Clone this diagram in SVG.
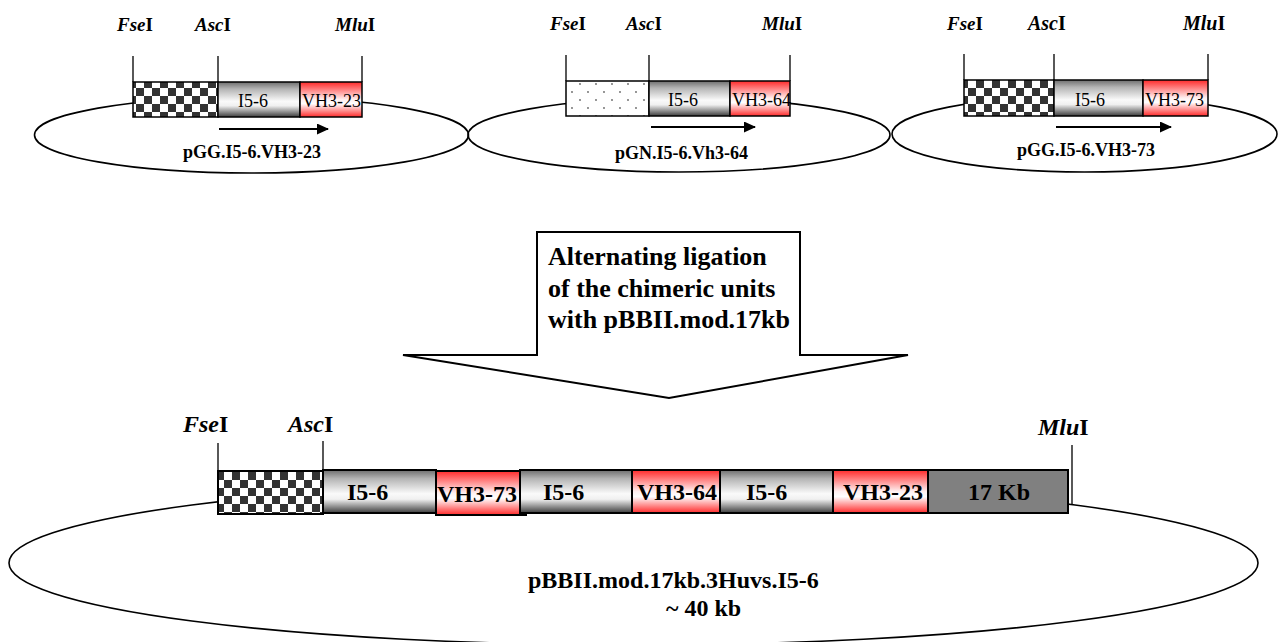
<svg xmlns="http://www.w3.org/2000/svg" width="1279" height="642" viewBox="0 0 1279 642">
<style>
.ring{fill:none;stroke:#000;stroke-width:1.6}
.box{stroke:#000;stroke-width:1.5}
.bbox{stroke:#000;stroke-width:2}
.site{stroke:#000;stroke-width:1.3;fill:none}
.lab{font-family:"Liberation Serif",serif;fill:#000}
.re{font-family:"Liberation Serif",serif;font-weight:bold;font-style:italic;fill:#000}
.up{font-style:normal}
.sm{font-size:18px}
.bl{font-size:24px;font-weight:bold}
.pl{font-size:18px;font-weight:bold}
.arr{stroke:#000;stroke-width:2;fill:none}
</style>
<defs>
<pattern id="checker" width="16" height="16" patternUnits="userSpaceOnUse">
<rect width="16" height="16" fill="#fff"/>
<rect width="8" height="8" fill="#333"/>
<rect x="8" y="8" width="8" height="8" fill="#333"/>
</pattern>
<pattern id="dots" width="16" height="16" patternUnits="userSpaceOnUse">
<rect width="16" height="16" fill="#fff"/>
<circle cx="4" cy="4" r="0.9" fill="#666"/>
<circle cx="12" cy="12" r="0.9" fill="#666"/>
</pattern>
<linearGradient id="metal" x1="0" y1="0" x2="0" y2="1">
<stop offset="0" stop-color="#6e6e6e"/>
<stop offset="0.2" stop-color="#b4b4b4"/>
<stop offset="0.55" stop-color="#fafafa"/>
<stop offset="0.68" stop-color="#f0f0f0"/>
<stop offset="1" stop-color="#3c3c3c"/>
</linearGradient>
<linearGradient id="red" x1="0" y1="0" x2="0" y2="1">
<stop offset="0" stop-color="#ff2a2a"/>
<stop offset="0.5" stop-color="#fff0f0"/>
<stop offset="0.62" stop-color="#ffffff"/>
<stop offset="1" stop-color="#ff2a2a"/>
</linearGradient>
<marker id="ah" markerWidth="12" markerHeight="11" refX="11" refY="5.5" orient="auto" markerUnits="userSpaceOnUse">
<path d="M0,0 L12,5.5 L0,11 Z" fill="#000"/>
</marker>
</defs>
<rect width="1279" height="642" fill="#fff"/>

<g id="plasmid1">
<ellipse class="ring" cx="251.5" cy="135" rx="217" ry="38"/>
<path class="site" d="M133,56V82 M218,56V82 M362,56V82"/>
<text class="re" x="117" y="31" font-size="19">Fse<tspan class="up">I</tspan></text>
<text class="re" x="195" y="31" font-size="19">Asc<tspan class="up">I</tspan></text>
<text class="re" x="335" y="31" font-size="19">Mlu<tspan class="up">I</tspan></text>
<rect class="box" x="133" y="82" width="85" height="35" fill="url(#checker)"/>
<rect class="box" x="218" y="82" width="82" height="35" fill="url(#metal)"/>
<rect class="box" x="300" y="82" width="62" height="35" fill="url(#red)"/>
<text class="lab sm" x="238" y="107">I5-6</text>
<text class="lab sm" x="302" y="107">VH3-23</text>
<line class="arr" x1="219" y1="129" x2="328" y2="129" marker-end="url(#ah)"/>
<text class="lab pl" x="183" y="158">pGG.I5-6.VH3-23</text>
</g>

<g id="plasmid2">
<ellipse class="ring" cx="679" cy="135" rx="211" ry="37"/>
<path class="site" d="M566,55V81 M649,55V81 M790,55V81"/>
<text class="re" x="550" y="30" font-size="19">Fse<tspan class="up">I</tspan></text>
<text class="re" x="626" y="30" font-size="19">Asc<tspan class="up">I</tspan></text>
<text class="re" x="762" y="30" font-size="19">Mlu<tspan class="up">I</tspan></text>
<rect class="box" x="566" y="81" width="83" height="35" fill="url(#dots)"/>
<rect class="box" x="649" y="81" width="81" height="35" fill="url(#metal)"/>
<rect class="box" x="730" y="81" width="60" height="35" fill="url(#red)"/>
<text class="lab sm" x="668" y="106">I5-6</text>
<text class="lab sm" x="732" y="106">VH3-64</text>
<line class="arr" x1="651" y1="127" x2="755" y2="127" marker-end="url(#ah)"/>
<text class="lab pl" x="615" y="159">pGN.I5-6.Vh3-64</text>
</g>

<g id="plasmid3">
<ellipse class="ring" cx="1084.5" cy="134" rx="192.5" ry="38"/>
<path class="site" d="M964,54V80 M1054,54V80 M1208,54V80"/>
<text class="re" x="947" y="30" font-size="19">Fse<tspan class="up">I</tspan></text>
<text class="re" x="1028" y="30" font-size="20">Asc<tspan class="up">I</tspan></text>
<text class="re" x="1183" y="30" font-size="20">Mlu<tspan class="up">I</tspan></text>
<rect class="box" x="964" y="80" width="90" height="36" fill="url(#checker)"/>
<rect class="box" x="1054" y="80" width="89" height="36" fill="url(#metal)"/>
<rect class="box" x="1143" y="80" width="65" height="36" fill="url(#red)"/>
<text class="lab sm" x="1075" y="106">I5-6</text>
<text class="lab sm" x="1145" y="106">VH3-73</text>
<line class="arr" x1="1056" y1="127" x2="1171" y2="127" marker-end="url(#ah)"/>
<text class="lab pl" x="1017" y="156">pGG.I5-6.VH3-73</text>
</g>

<g id="step-arrow">
<polygon points="537,232 800,232 800,355 908,355 669,398 403,355 537,355" fill="#fff" stroke="#000" stroke-width="2"/>
<text class="lab" font-size="26" font-weight="bold" x="548" y="265">Alternating ligation</text>
<text class="lab" font-size="26" font-weight="bold" x="548" y="297">of the chimeric units</text>
<text class="lab" font-size="26" font-weight="bold" x="548" y="328">with pBBII.mod.17kb</text>
</g>

<g id="final-plasmid">
<ellipse class="ring" cx="633.5" cy="563" rx="624.5" ry="82"/>
<path class="site" d="M218,443V471 M323,441V471 M1072,445V504"/>
<text class="re" x="183" y="432" font-size="24">Fse<tspan class="up">I</tspan></text>
<text class="re" x="288" y="432" font-size="24">Asc<tspan class="up">I</tspan></text>
<text class="re" x="1038" y="435" font-size="24">Mlu<tspan class="up">I</tspan></text>
<rect class="bbox" x="218" y="471" width="105" height="43" fill="url(#checker)"/>
<rect class="bbox" x="323" y="470" width="113" height="43" fill="url(#metal)"/>
<text class="lab bl" x="347" y="500">I5-6</text>
<rect class="bbox" x="436" y="471" width="90" height="44" fill="url(#red)"/>
<text class="lab bl" x="437" y="502">VH3-73</text>
<rect class="bbox" x="520" y="470" width="112" height="43" fill="url(#metal)"/>
<text class="lab bl" x="543" y="500">I5-6</text>
<rect class="bbox" x="632" y="470" width="88" height="43" fill="url(#red)"/>
<text class="lab bl" x="637" y="500">VH3-64</text>
<rect class="bbox" x="720" y="470" width="113" height="43" fill="url(#metal)"/>
<text class="lab bl" x="746" y="500">I5-6</text>
<rect class="bbox" x="833" y="470" width="95" height="43" fill="url(#red)"/>
<text class="lab bl" x="843" y="500">VH3-23</text>
<rect class="bbox" x="928" y="470" width="140" height="43" fill="#808080"/>
<text class="lab bl" x="968" y="500">17 Kb</text>
<text class="lab bl" x="528" y="588">pBBII.mod.17kb.3Huvs.I5-6</text>
<text class="lab bl" x="666" y="616">~ 40 kb</text>
</g>
</svg>
